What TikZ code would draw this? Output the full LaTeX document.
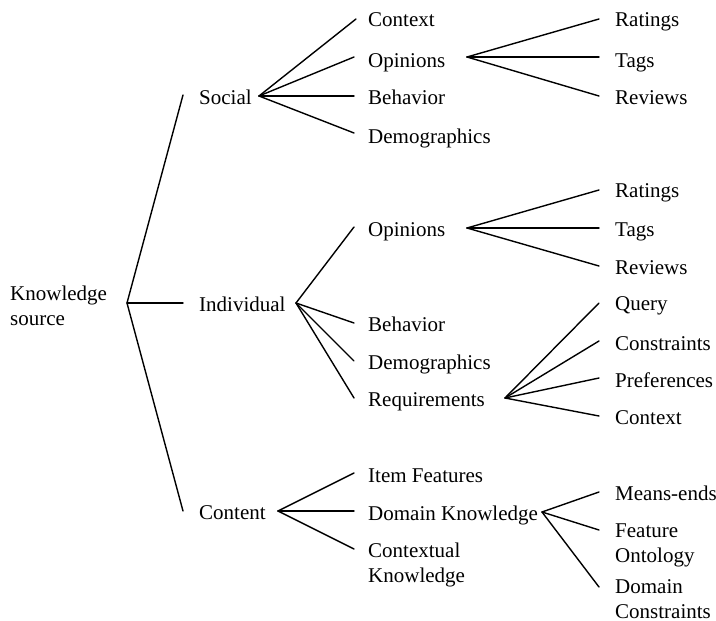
\documentclass[tikz,border=0pt]{standalone}
\usepackage{fontspec}
\setmainfont{Liberation Serif}
\begin{document}
\begin{tikzpicture}[x=1pt,y=-1pt,
  lbl/.style={anchor=base west,inner sep=0pt,align=left,font=\fontsize{21}{24.5}\selectfont},
  conn/.style={line width=1.4pt,line cap=round}]
\useasboundingbox (0,0) rectangle (716,621);
% text nodes (multi-line nodes: base = last line)
\node[lbl] (ks) at (10,325) {Knowledge\\source};
\node[lbl] (soc) at (199,104) {Social};
\node[lbl] (ind) at (199,311) {Individual};
\node[lbl] (con) at (199,519) {Content};
% social
\node[lbl] (sctx) at (368,27) {Context};
\node[lbl] (sop) at (368,67) {Opinions};
\node[lbl] (sbeh) at (368,104) {Behavior};
\node[lbl] (sdem) at (368,143) {Demographics};
\node[lbl] (srat) at (615,27) {Ratings};
\node[lbl] (stag) at (615,67) {Tags};
\node[lbl] (srev) at (615,104) {Reviews};
% individual
\node[lbl] (iop) at (368,236) {Opinions};
\node[lbl] (ibeh) at (368,331) {Behavior};
\node[lbl] (idem) at (368,369) {Demographics};
\node[lbl] (ireq) at (368,406) {Requirements};
\node[lbl] (irat) at (615,197) {Ratings};
\node[lbl] (itag) at (615,236) {Tags};
\node[lbl] (irev) at (615,274) {Reviews};
\node[lbl] (qry) at (615,310) {Query};
\node[lbl] (cons) at (615,350) {Constraints};
\node[lbl] (pref) at (615,387) {Preferences};
\node[lbl] (rctx) at (615,424) {Context};
% content
\node[lbl] (itf) at (368,482) {Item Features};
\node[lbl] (dk) at (368,520) {Domain Knowledge};
\node[lbl] (ck) at (368,582) {Contextual\\Knowledge};
\node[lbl] (me) at (615,500) {Means-ends};
\node[lbl] (fo) at (615,562) {Feature\\Ontology};
\node[lbl] (dc) at (615,618) {Domain\\Constraints};
% connector points
\coordinate (r0) at (127,303);
\coordinate (socIn) at (183,95);
\coordinate (indIn) at (183,303);
\coordinate (conIn) at (183,511);
\coordinate (socOut) at (259,96);
\coordinate (indOut) at (296,303);
\coordinate (conOut) at (278,511);
\coordinate (sctxIn) at (356,19);
\coordinate (sopIn) at (354,57);
\coordinate (sbehIn) at (354,96);
\coordinate (sdemIn) at (354,133);
\coordinate (sopOut) at (467,57);
\coordinate (sratIn) at (599,19);
\coordinate (stagIn) at (599,57);
\coordinate (srevIn) at (599,96);
\coordinate (iopIn) at (354,227);
\coordinate (ibehIn) at (354,323);
\coordinate (idemIn) at (354,361);
\coordinate (ireqIn) at (354,398);
\coordinate (iopOut) at (467,228);
\coordinate (iratIn) at (599,190);
\coordinate (itagIn) at (599,228);
\coordinate (irevIn) at (599,266);
\coordinate (ireqOut) at (505,398);
\coordinate (qryIn) at (599,303);
\coordinate (consIn) at (599,341);
\coordinate (prefIn) at (599,378);
\coordinate (rctxIn) at (599,416);
\coordinate (itfIn) at (354,473);
\coordinate (dkIn) at (354,511);
\coordinate (ckIn) at (354,549);
\coordinate (dkOut) at (542,512);
\coordinate (meIn) at (599,492);
\coordinate (foIn) at (599,530);
\coordinate (dcIn) at (599,587);
% connectors
\draw[conn] (socIn) -- (r0) -- (conIn);
\draw[conn] (r0) -- (indIn);
\foreach \t in {sctxIn,sopIn,sbehIn,sdemIn} \draw[conn] (socOut) -- (\t);
\foreach \t in {sratIn,stagIn,srevIn} \draw[conn] (sopOut) -- (\t);
\foreach \t in {iopIn,ibehIn,idemIn,ireqIn} \draw[conn] (indOut) -- (\t);
\foreach \t in {iratIn,itagIn,irevIn} \draw[conn] (iopOut) -- (\t);
\foreach \t in {qryIn,consIn,prefIn,rctxIn} \draw[conn] (ireqOut) -- (\t);
\foreach \t in {itfIn,dkIn,ckIn} \draw[conn] (conOut) -- (\t);
\foreach \t in {meIn,foIn,dcIn} \draw[conn] (dkOut) -- (\t);
\end{tikzpicture}
\end{document}
